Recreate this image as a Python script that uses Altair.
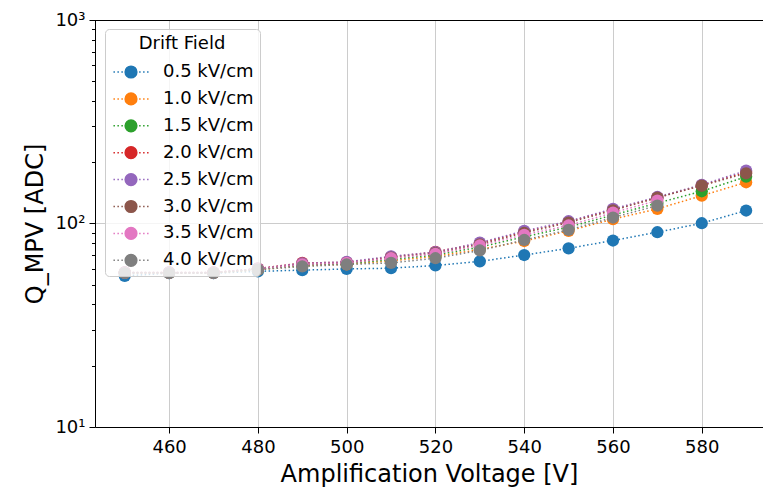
import altair as alt
import pandas as pd

voltages = [450, 460, 470, 480, 490, 500, 510, 520, 530, 540, 550, 560, 570, 580, 590]
series_labels = ["0.5 kV/cm", "1.0 kV/cm", "1.5 kV/cm", "2.0 kV/cm",
                 "2.5 kV/cm", "3.0 kV/cm", "3.5 kV/cm", "4.0 kV/cm"]
series_colors = ["#1f77b4", "#ff7f0e", "#2ca02c", "#d62728",
                 "#9467bd", "#8c564b", "#e377c2", "#7f7f7f"]

q_05 = [55.3, 57.0, 57.0, 58.2, 59.0, 59.8, 60.3, 62.2, 65.1, 70.0, 75.5, 82.5, 90.6, 100.3, 115.8]
q_10 = [57.2, 57.2, 57.2, 59.3, 62.0, 63.0, 65.5, 69.0, 74.5, 82.0, 92.0, 105.0, 118.0, 137.0, 159.4]
q_15 = [57.3, 57.3, 57.3, 59.5, 62.5, 63.5, 66.5, 70.0, 76.5, 86.0, 96.0, 110.0, 126.0, 144.0, 170.0]
q_20 = [57.5, 57.5, 57.5, 60.0, 64.0, 64.5, 68.5, 72.5, 80.0, 91.0, 102.0, 117.0, 134.0, 154.0, 179.0]
q_25 = [57.5, 57.5, 57.5, 60.0, 63.7, 64.8, 69.0, 72.3, 80.5, 92.0, 102.6, 118.0, 135.0, 155.0, 182.0]
q_30 = [57.3, 57.3, 57.3, 59.7, 63.0, 64.0, 68.0, 71.5, 79.0, 90.0, 101.0, 116.0, 134.0, 153.6, 176.5]
q_35 = [57.3, 57.3, 57.3, 59.7, 63.0, 64.0, 67.5, 71.0, 78.0, 88.0, 97.8, 113.0, 129.7, None, None]
q_40 = [57.1, 57.1, 57.1, 59.3, 61.5, 62.9, 64.0, 67.5, 73.7, 83.0, 93.0, 107.0, 122.5, None, None]

all_series = [q_05, q_10, q_15, q_20, q_25, q_30, q_35, q_40]

rows = []
for label, vals in zip(series_labels, all_series):
    for v, q in zip(voltages, vals):
        if q is not None:
            rows.append({"voltage": v, "q": q, "field": label})
df = pd.DataFrame(rows)

FONT = "DejaVu Sans"
W, H = 668, 407

# legend symbol: filled circle with short dot segments on each side (unit = sqrt(size)/2)
r = 0.9
dots = [(1.25, 1.48), (1.86, 2.09), (2.47, 2.70)]
seg = " ".join(f"M {a} 0 L {b} 0 M {-a} 0 L {-b} 0" for a, b in dots)
legend_path = f"{seg} M {r} 0 A {r} {r} 0 1 1 {-r} 0 A {r} {r} 0 1 1 {r} 0 Z"

major_test = "datum.value == 10 || datum.value == 100 || datum.value == 1000"
grid_test = "datum.value == 100"

x_enc = alt.X("voltage:Q",
              scale=alt.Scale(domain=[443.3, 593.8], nice=False, zero=False),
              axis=alt.Axis(title="Amplification Voltage [V]",
                            values=[460, 480, 500, 520, 540, 560, 580],
                            format="d", labelFontSize=18, titleFontSize=24,
                            tickSize=6, labelPadding=5, titlePadding=6,
                            grid=True, gridColor="#cccccc", gridWidth=1))
y_enc = alt.Y("q:Q",
              scale=alt.Scale(type="log", domain=[10, 1000], nice=False),
              axis=alt.Axis(title="Q_MPV [ADC]",
                            values=[10, 20, 30, 40, 50, 60, 70, 80, 90,
                                    100, 200, 300, 400, 500, 600, 700, 800, 900, 1000],
                            labelExpr="datum.value == 1000 ? '10³' : datum.value == 100 ? '10²' : datum.value == 10 ? '10¹' : ''",
                            labelFontSize=18, titleFontSize=24,
                            tickSize={"condition": {"test": major_test, "value": 6}, "value": 3.5},
                            labelPadding=4, titlePadding=7,
                            grid=True, gridColor="#cccccc", gridWidth=1,
                            gridOpacity={"condition": {"test": grid_test, "value": 1}, "value": 0}))

color_scale = alt.Scale(domain=series_labels, range=series_colors)
legend = alt.Legend(title="Drift Field", orient="none", legendX=10, legendY=9,
                    symbolType=legend_path, symbolSize=169, symbolStrokeWidth=1.5,
                    labelFontSize=18, titleFontSize=18,
                    titleFontWeight="normal", titleAnchor="middle",
                    fillColor="rgba(255,255,255,0.8)", strokeColor="#cccccc",
                    cornerRadius=4, padding=6, rowPadding=8.9, titlePadding=10,
                    labelOffset=23, symbolOffset=11, labelColor="black",
                    titleColor="black", labelFont=FONT, titleFont=FONT)

base = alt.Chart(df)
layers = []
for i, label in enumerate(series_labels):
    sub = base.transform_filter(alt.datum.field == label)
    color_enc = alt.Color("field:N", scale=color_scale, legend=legend)
    line = sub.mark_line(strokeDash=[1.5, 2.5], strokeWidth=1.5).encode(
        x=x_enc, y=y_enc, color=color_enc)
    pts = sub.mark_point(filled=True, size=150, opacity=1, shape="circle").encode(
        x=x_enc, y=y_enc, color=color_enc)
    layers += [line, pts]

top_rule = alt.Chart(df).mark_rule(color="black", strokeWidth=1).encode(
    y=alt.value(0.5), x=alt.value(0), x2=alt.value(W))

chart = alt.layer(*layers, top_rule).properties(
    width=W, height=H, autosize="none",
    padding={"left": 95, "top": 20, "right": 0, "bottom": 61}
).configure_view(strokeWidth=0).configure_axis(
    labelFont=FONT, titleFont=FONT, labelColor="black", titleColor="black",
    titleFontWeight="normal", domainColor="black", tickColor="black",
    domainWidth=1, tickWidth=1
).configure_text(font=FONT)

chart.save("out.html", embed_options={"renderer": "svg", "actions": False})
